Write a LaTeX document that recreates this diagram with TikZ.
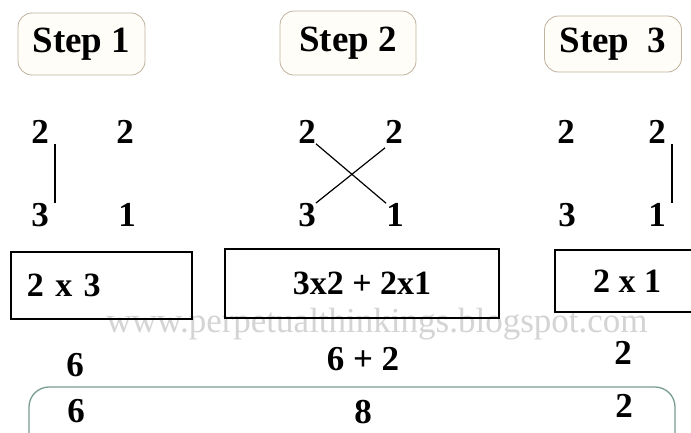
\documentclass[tikz,border=0pt]{standalone}
\usepackage{fontspec}
\setmainfont{Liberation Serif}
\usepackage{xcolor}
\usepackage{tikz}
\usetikzlibrary{positioning}
\definecolor{stepedge}{HTML}{BFB29E}
\definecolor{stepfill}{HTML}{FFFDF7}
\definecolor{sumedge}{HTML}{7A9E8E}
\definecolor{wmgray}{HTML}{D4D4D4}
\newcommand{\numfont}{\fontsize{35}{40}\selectfont\bfseries}
\tikzset{
  stepbox/.style={rectangle, rounded corners=14pt, draw=stepedge, line width=0.8pt, fill=stepfill, font=\fontsize{37}{42}\selectfont\bfseries, inner sep=0pt},
  digit/.style={font=\numfont, inner sep=0pt},
  calcbox/.style={rectangle, draw=black, line width=1.1pt, font=\fontsize{34}{38}\selectfont\bfseries, inner sep=0pt},
  res/.style={font=\numfont, inner sep=0pt},
  sumbox/.style={rectangle, rounded corners=20pt, draw=sumedge, line width=1.3pt, inner sep=0pt},
  link/.style={line width=1.2pt},
}
\begin{document}
\begin{tikzpicture}[x=1pt, y=-1pt]
\useasboundingbox[fill=white] (0,0) rectangle (691,432);
% watermark
\node[font=\fontsize{35}{40}\selectfont, text=wmgray] (wm) at (377,324) {www.perpetualthinkings.blogspot.com};
% step labels
\node[stepbox, minimum width=127pt, minimum height=62pt] (s1) at (81.5,44) {Step 1};
\node[stepbox, minimum width=136pt, minimum height=64pt] (s2) at (348,43) {Step 2};
\node[stepbox, minimum width=137pt, minimum height=56pt] (s3) at (613,44) {Step\ \ 3\hspace{8pt}};
% digits
\node[digit] (a1) at (40,132) {2};
\node[digit] (a2) at (125,132) {2};
\node[digit] (a3) at (40,215) {3};
\node[digit] (a4) at (127,215) {1};
\node[digit] (b1) at (307,132) {2};
\node[digit] (b2) at (394,132) {2};
\node[digit] (b3) at (307,215) {3};
\node[digit] (b4) at (395,215) {1};
\node[digit] (c1) at (566,132) {2};
\node[digit] (c2) at (657,132) {2};
\node[digit] (c3) at (567,215) {3};
\node[digit] (c4) at (657,215) {1};
\draw[link] ([xshift=6pt]a1.south east) -- ([xshift=6pt]a3.north east);
\draw[link] (b1.south east) -- (b4.north west);
\draw[link] (b3.north east) -- ([yshift=-4pt]b2.south west);
\draw[link] ([xshift=6pt]c2.south east) -- ([xshift=6pt]c4.north east);
% products
\node[calcbox, text width=149pt, inner xsep=16pt, minimum height=67pt, align=left] (k1) at (101.5,285.5) {2 x 3};
\node[calcbox, minimum width=274pt, minimum height=69pt] (k2) at (362,283.5) {3x2 + 2x1};
\node[calcbox, minimum width=144pt, minimum height=62pt] (k3) at (627,281) {2 x 1};
% results
\node[res] (r1) at (75,365) {6};
\node[res] (r2) at (363,359) {6 + 2};
\node[res] (r3) at (623,353) {2};
\node[sumbox, minimum width=646pt, minimum height=66pt] (sum) at (352,420) {};
\node[res] (t1) at (76,411) {6};
\node[res] (t2) at (363,412) {8};
\node[res] (t3) at (624,406) {2};
\end{tikzpicture}
\end{document}
